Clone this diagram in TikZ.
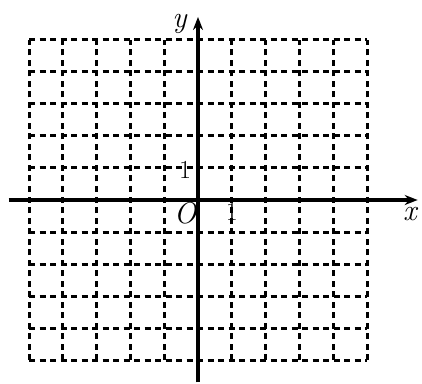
\documentclass[tikz,border=0pt]{standalone}
\usepackage{fontspec}
\setmainfont{Latin Modern Roman}
\usetikzlibrary{arrows.meta}
\begin{document}
\begin{tikzpicture}[x=1pt,y=1pt,
  gridline/.style={line width=3pt,dash pattern=on 6pt off 4.5pt,black},
  axisline/.style={line width=3.2pt,-{Stealth[length=13pt,width=10pt]}},
  lbl/.style={font=\fontsize{30}{34}\selectfont\itshape,inner sep=0pt},
  num/.style={font=\fontsize{26}{30}\selectfont,inner sep=0pt}]
\useasboundingbox (0,0) rectangle (422,383);
% origin at (198,183); units 33.8 horizontal, 32 vertical
\begin{scope}[shift={(198,183)},x=33.8pt,y=32pt]
  \foreach \i in {-5,...,-1,1,2,...,5} {
    \draw[gridline] (\i,-5) -- (\i,5);
    \draw[gridline] (-5,\i) -- (5,\i);
  }
  \draw[gridline] (0,-5) -- (0,5);
  \draw[gridline] (-5,0) -- (5,0);
  \coordinate (xs) at (-5.6,0);
  \coordinate (xe) at (6.5,0);
  \coordinate (ys) at (0,-5.7);
  \coordinate (ye) at (0,5.72);
  \coordinate (O) at (0,0);
  \draw[axisline] (xs) -- (xe);
  \draw[axisline] (ys) -- (ye);
  \node[lbl] (lO) at (-0.38,-0.42) {O};
  \node[lbl] (lx) at (6.27,-0.45) {x};
  \node[lbl] (ly) at (-0.55,5.5) {y};
  \node[num] (l1y) at (-0.38,0.95) {1};
  \node[num] (l1x) at (1.0,-0.38) {1};
\end{scope}
\end{tikzpicture}
\end{document}
